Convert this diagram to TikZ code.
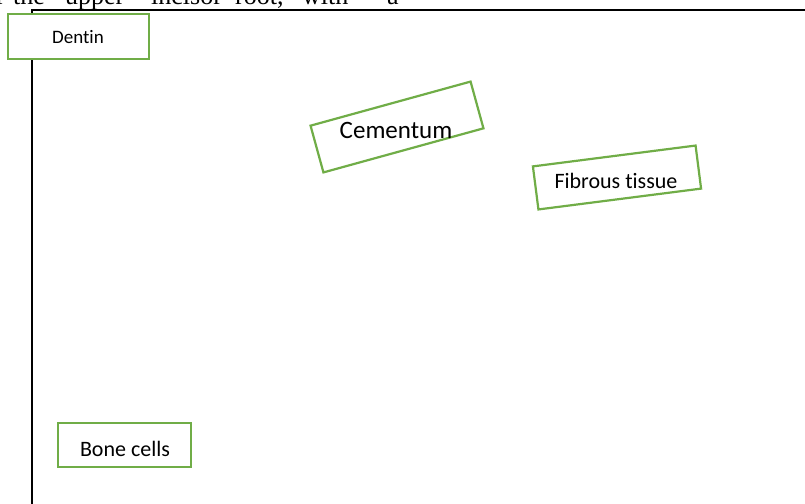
\documentclass[tikz,border=0pt]{standalone}
\usepackage{fontspec}
\setmainfont{Carlito}[RawFeature=-liga]
\newfontfamily\serifface{Liberation Serif}
\definecolor{boxgreen}{HTML}{70AD47}
\begin{document}
\begin{tikzpicture}[x=1pt,y=-1pt,
  gbox/.style={draw=boxgreen,line width=2.2pt,fill=white,inner sep=0pt,rectangle},
  lbl/.style={inner sep=0pt,anchor=base,text=black},
  topword/.style={inner sep=0pt,anchor=base west,font=\serifface\fontsize{26}{30}\selectfont}]
\useasboundingbox (0,0) rectangle (805,503);
\clip (0,0) rectangle (805,503);
% clipped running text at the top
\node[topword] (w1) at (-4,5) {r};
\node[topword] (w2) at (13,5) {the};
\node[topword] (w3) at (65,5) {upper};
\node[topword] (w4) at (151,5) {incisor};
\node[topword] (w5) at (235,5) {root,};
\node[topword] (w6) at (302,5) {with};
\node[topword] (w7) at (387,5) {a};
% frame
\coordinate (fTL) at (32,10);
\coordinate (fTR) at (806,10);
\coordinate (fBL) at (32,504);
\draw[line width=1.3pt] (fTR) -- (fTL) -- (fBL);
% boxes
\node[gbox,minimum width=141pt,minimum height=45pt] (dentinbox) at (78.5,36.5) {};
\node[lbl,font=\fontsize{19}{23}\selectfont] (dentin) at (78,44) {Dentin};
\node[gbox,minimum width=133pt,minimum height=44pt] (bonebox) at (124.5,445) {};
\node[lbl,font=\fontsize{22}{26}\selectfont] (bone) at (125,456) {Bone cells};
\node[gbox,minimum width=166pt,minimum height=48.5pt,rotate=15.4] (cementbox) at (397,127) {};
\node[lbl,font=\fontsize{25}{30}\selectfont] (cement) at (396,138) {Cementum};
\node[gbox,minimum width=164pt,minimum height=43.4pt,rotate=7.3,fill=none] (fibrbox) at (617,177.5) {};
\node[lbl,font=\fontsize{22}{26}\selectfont] (fibr) at (616,188) {Fibrous tissue};
\end{tikzpicture}
\end{document}
